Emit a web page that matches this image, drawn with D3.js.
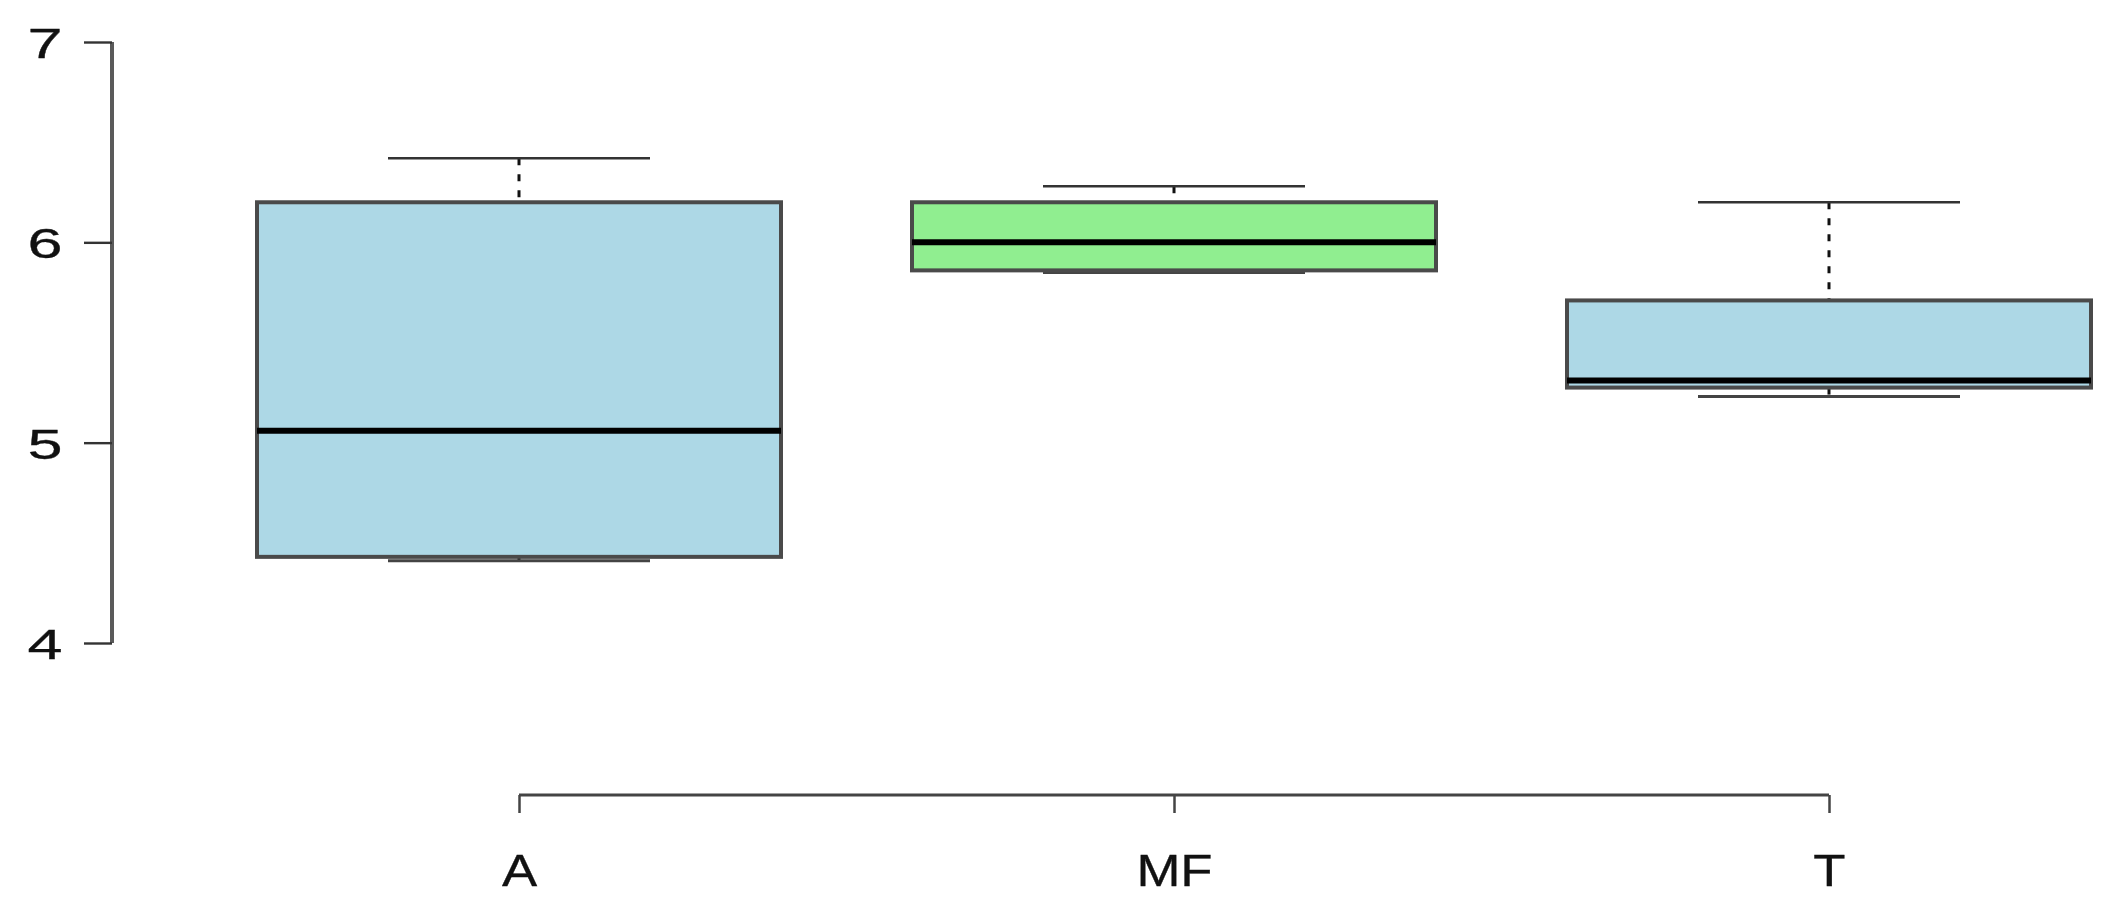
<!DOCTYPE html>
<html>
<head>
<meta charset="utf-8">
<script src="https://cdn.jsdelivr.net/npm/d3@7"></script>
<style>
  html, body { margin: 0; padding: 0; background: #fff; }
  svg { display: block; }
</style>
</head>
<body>
<svg id="chart" width="2116" height="907"></svg>
<script>
// ---- data ----
const categories = ["A", "MF", "T"];
const whiskerLow  = [4.41, 5.85, 5.23];
const q1          = [4.43, 5.86, 5.275];
const median      = [5.06, 6.00, 5.31];
const q3          = [6.20, 6.20, 5.71];
const whiskerHigh = [6.42, 6.28, 6.20];
const fills       = ["#ADD8E6", "#90EE90", "#ADD8E6"];
const yTicks      = [4, 5, 6, 7];

// ---- layout ----
const svg = d3.select("#chart");
const y = d3.scaleLinear().domain([4, 7]).range([643, 42]);
const x = d3.scalePoint().domain(categories).range([519, 1829]);
const step = x.step();
const boxW = step * 0.8;
const capW = boxW * 0.5;

const data = categories.map((c, i) => ({
  c, lo: whiskerLow[i], q1: q1[i], med: median[i], q3: q3[i], hi: whiskerHigh[i], fill: fills[i]
}));

// y axis
const yAxisX = 112;
const yAxis = d3.axisLeft(y).tickValues(yTicks).tickSize(28).tickPadding(0).tickFormat(d3.format("d"));
const gy = svg.append("g").attr("transform", `translate(${yAxisX},0)`).call(yAxis);
gy.select(".domain").attr("d", `M0,${y(7)}V${y(4)}`).attr("stroke", "#5a5a5a").attr("stroke-width", 4);
gy.selectAll(".tick line").attr("stroke", "#333").attr("stroke-width", 2.4);
gy.selectAll(".tick text")
  .attr("x", null).attr("dy", null)
  .attr("text-anchor", "middle")
  .attr("dominant-baseline", "central")
  .attr("font-family", "Liberation Sans, Arial, sans-serif")
  .attr("font-size", 42)
  .attr("stroke", "#111").attr("stroke-width", 0.3)
  .attr("fill", "#111")
  .attr("transform", `translate(${45 - yAxisX},1) scale(1.5,1)`);

// x axis
const xAxisY = 795;
const xAxis = d3.axisBottom(x).tickSize(18).tickPadding(0);
const gx = svg.append("g").attr("transform", `translate(0,${xAxisY})`).call(xAxis);
gx.select(".domain").attr("d", `M${x("A")},0H${x("T")}`).attr("stroke", "#444").attr("stroke-width", 3);
gx.selectAll(".tick line").attr("stroke", "#444").attr("stroke-width", 2.5);
gx.selectAll(".tick text")
  .attr("y", null).attr("dy", null)
  .attr("text-anchor", "middle")
  .attr("font-family", "Liberation Sans, Arial, sans-serif")
  .attr("font-size", 44)
  .attr("stroke", "#111").attr("stroke-width", 0.3)
  .attr("fill", "#111")
  .attr("transform", "translate(0,91) scale(1.2,1)");

// boxes
const g = svg.append("g");
const box = g.selectAll("g.box").data(data).enter().append("g").attr("class", "box");

// dashed whiskers
box.append("line")
  .attr("x1", d => x(d.c)).attr("x2", d => x(d.c))
  .attr("y1", d => y(d.hi)).attr("y2", d => y(d.q3))
  .attr("stroke", "#111").attr("stroke-width", 3).attr("stroke-dasharray", "7,9");
box.append("line")
  .attr("x1", d => x(d.c)).attr("x2", d => x(d.c))
  .attr("y1", d => y(d.q1)).attr("y2", d => y(d.lo))
  .attr("stroke", "#111").attr("stroke-width", 3).attr("stroke-dasharray", "7,9");

// caps
box.append("line")
  .attr("x1", d => x(d.c) - capW / 2).attr("x2", d => x(d.c) + capW / 2)
  .attr("y1", d => y(d.hi)).attr("y2", d => y(d.hi))
  .attr("stroke", "#333").attr("stroke-width", 2.6);
box.append("line")
  .attr("x1", d => x(d.c) - capW / 2).attr("x2", d => x(d.c) + capW / 2)
  .attr("y1", d => y(d.lo)).attr("y2", d => y(d.lo))
  .attr("stroke", "#444").attr("stroke-width", 3);

// box rect
box.append("rect")
  .attr("x", d => x(d.c) - boxW / 2)
  .attr("width", boxW)
  .attr("y", d => y(d.q3))
  .attr("height", d => y(d.q1) - y(d.q3))
  .attr("fill", d => d.fill)
  .attr("stroke", "#4a4a4a").attr("stroke-width", 4);

// median
box.append("line")
  .attr("x1", d => x(d.c) - boxW / 2).attr("x2", d => x(d.c) + boxW / 2)
  .attr("y1", d => y(d.med)).attr("y2", d => y(d.med))
  .attr("stroke", "#000").attr("stroke-width", 6);
</script>
</body>
</html>
